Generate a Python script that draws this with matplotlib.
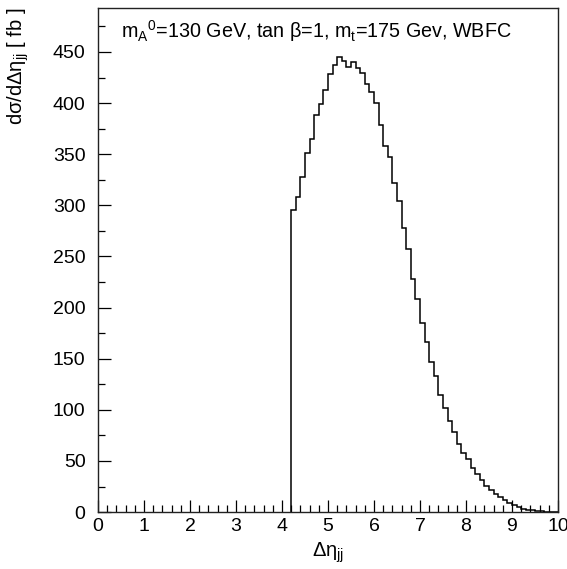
import numpy as np
import matplotlib
matplotlib.use("Agg")
import matplotlib.pyplot as plt
from matplotlib.ticker import MultipleLocator

plt.rcParams['font.family'] = ['Liberation Sans', 'DejaVu Sans']
plt.rcParams['mathtext.fontset'] = 'custom'
plt.rcParams['mathtext.rm'] = 'Liberation Sans'
plt.rcParams['mathtext.it'] = 'Liberation Sans:italic'

# Histogram data: bin edges from 4.2 to 10.0 in steps of 0.1
bin_start = 4.2
bin_stop = 10.0
bin_width = 0.1
values = [
    295, 308, 328, 351, 365, 388, 399, 413, 428, 437,   # 4.2 - 5.1
    445, 441, 435, 440, 434, 429, 419, 411, 400, 379,   # 5.2 - 6.1
    358, 347, 322, 304, 278, 257, 228, 208, 185, 166,   # 6.2 - 7.1
    147, 133, 115, 102, 89, 78, 67, 58, 51.5, 43,       # 7.2 - 8.1
    37.5, 31, 26, 22, 18, 14.7, 11.4, 9.1, 6.5, 4.9,    # 8.2 - 9.1
    3.3, 2.3, 1.6, 1.0, 0.7, 0.4, 0.25, 0.1,            # 9.2 - 9.9
]
n_bins = len(values)
edges = bin_start + bin_width * np.arange(n_bins + 1)

annotation = r"m$_{\rm A}$$^{\rm 0}$=130 GeV, tan β=1, m$_{\rm t}$=175 Gev, WBFC"
xlabel = r"Δη$_{\rm jj}$"
ylabel = r"dσ/dΔη$_{\rm jj}$ [ fb ]"

fig = plt.figure(figsize=(5.67, 5.69), dpi=100)
ax = fig.add_axes([0.173, 0.100, 0.811, 0.886])

ax.stairs(values, edges, baseline=0, color='black', linewidth=1.1)

ax.set_xlim(0, 10)
ax.set_ylim(0, 493)

ax.xaxis.set_major_locator(MultipleLocator(1))
ax.xaxis.set_minor_locator(MultipleLocator(0.2))
ax.yaxis.set_major_locator(MultipleLocator(50))
ax.yaxis.set_minor_locator(MultipleLocator(25))
ax.tick_params(which='both', direction='in', top=False, right=False, labelsize=14)
ax.tick_params(which='major', length=9, width=0.9)
ax.tick_params(which='minor', length=5, width=0.9)
ax.tick_params(axis='y', pad=9)
ax.tick_params(axis='x', pad=4)

for s in ax.spines.values():
    s.set_linewidth(1.0)
    s.set_color('#222222')

ax.text(0.05, 0.955, annotation, transform=ax.transAxes, fontsize=14.2,
        ha='left', va='center')

ax.set_xlabel(xlabel, fontsize=14.5)
ax.set_ylabel(ylabel, fontsize=14.5)
ax.xaxis.set_label_coords(0.5, -0.056)
ax.yaxis.set_label_coords(-0.146, 0.885)

fig.savefig("out.png", dpi=100)
